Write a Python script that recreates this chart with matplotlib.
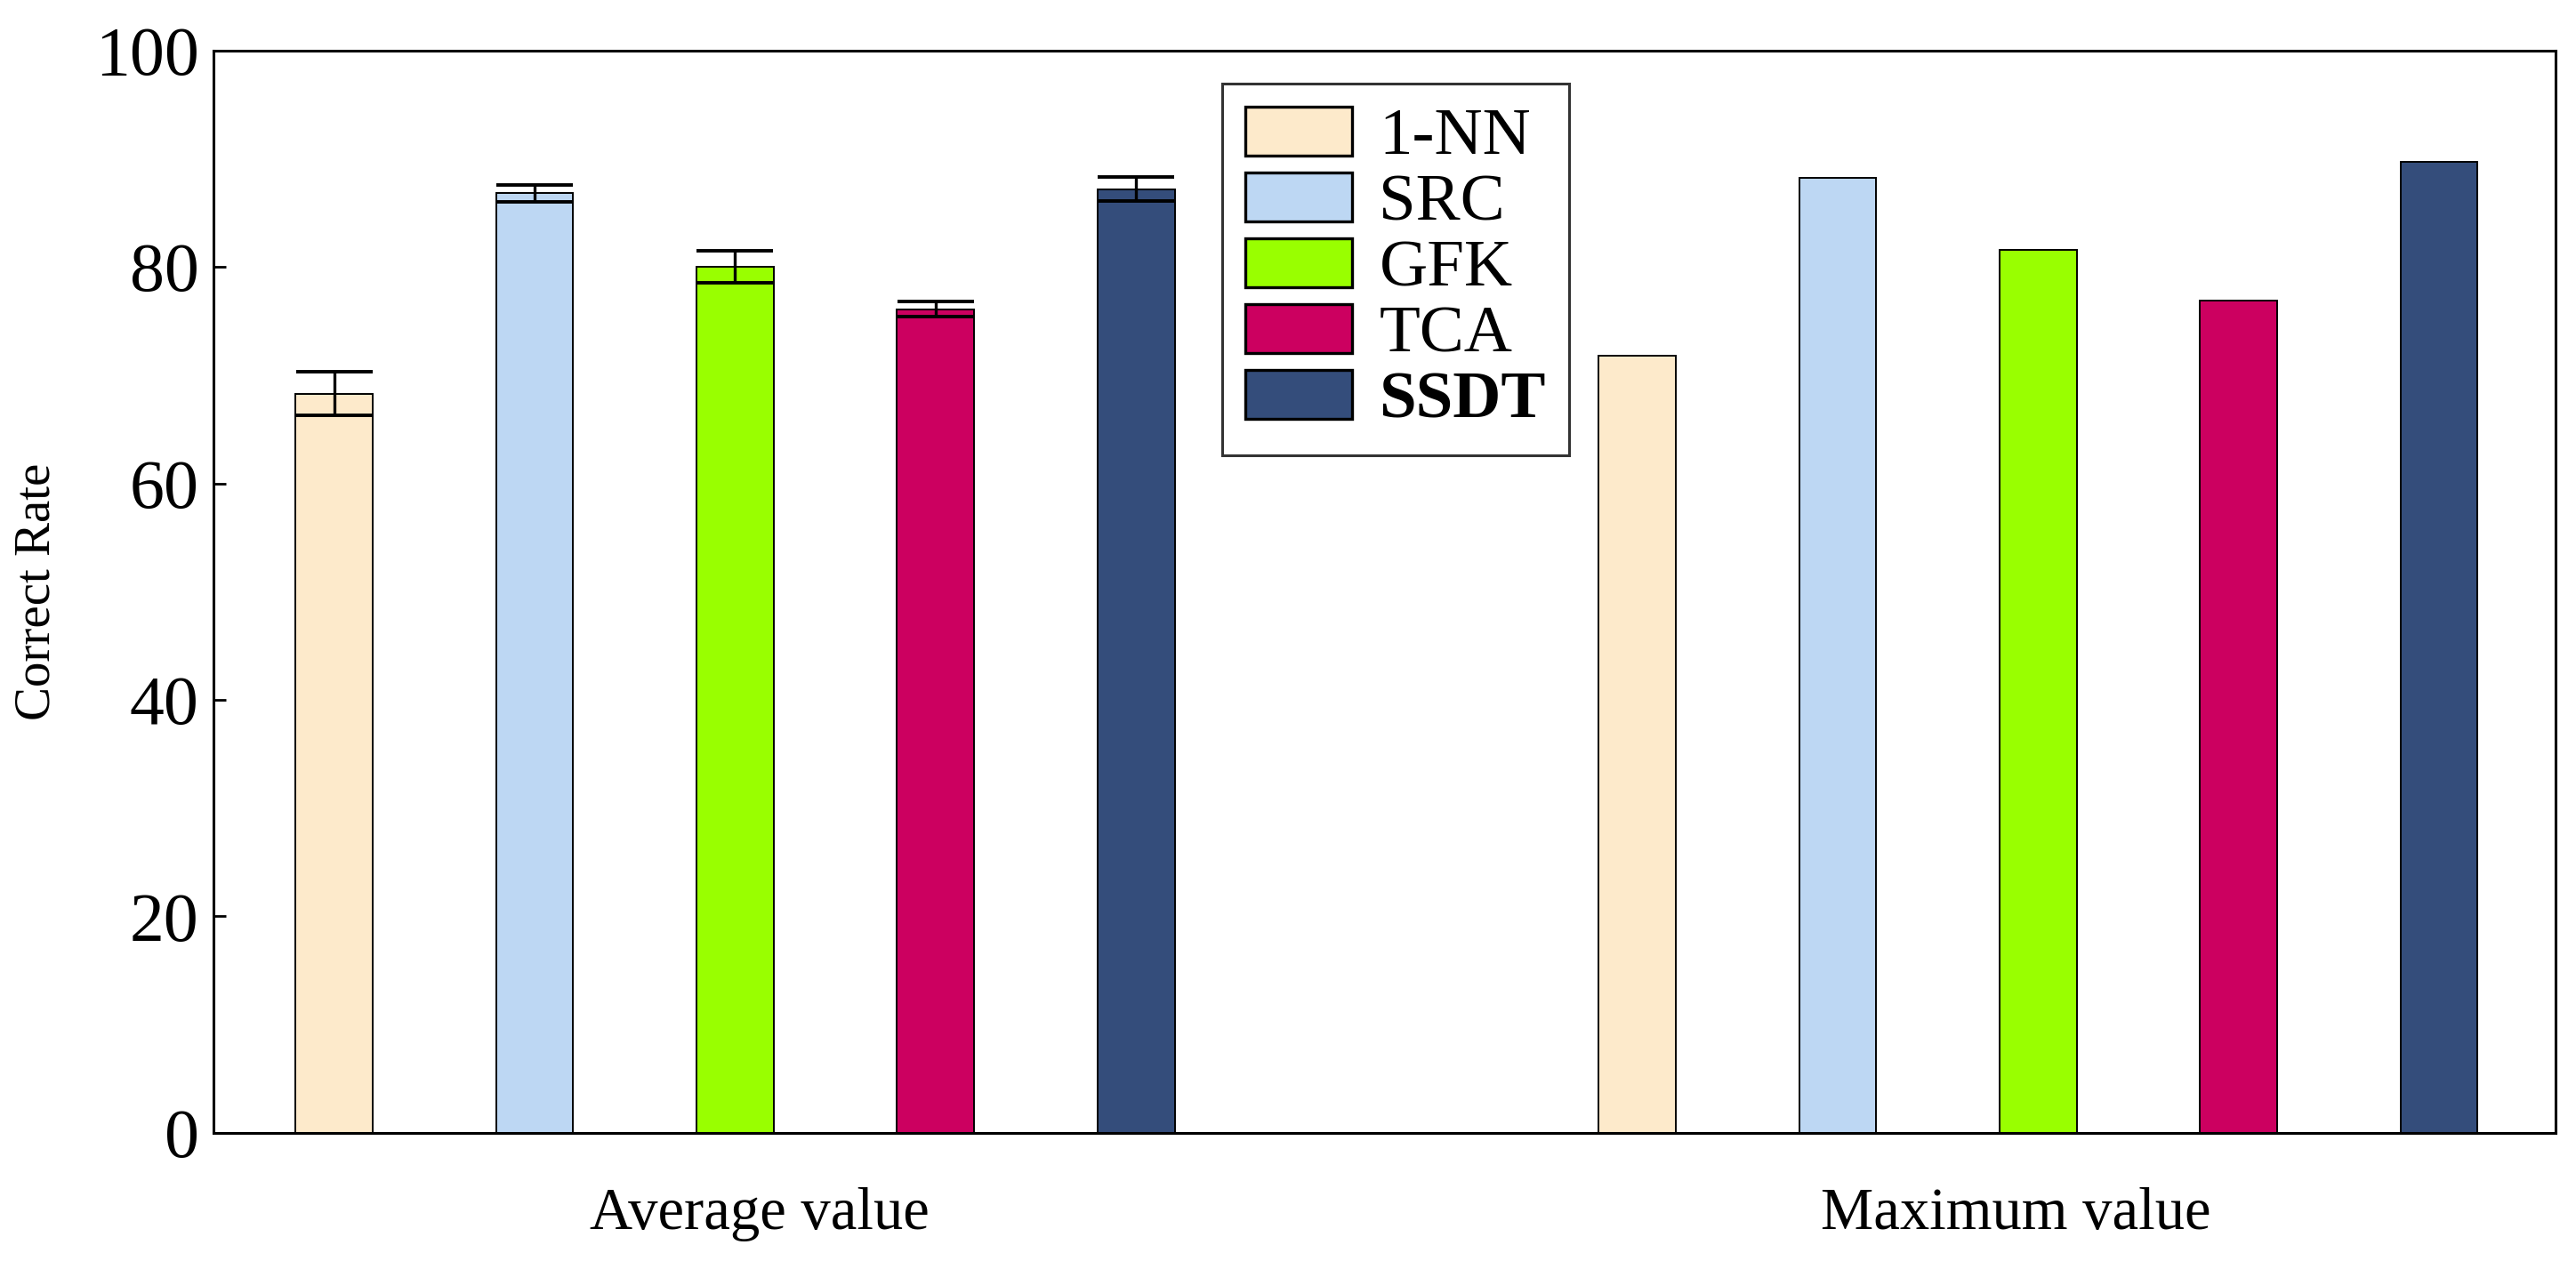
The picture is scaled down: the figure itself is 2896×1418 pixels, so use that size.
import matplotlib
matplotlib.use("Agg")
import matplotlib.pyplot as plt
import numpy as np

methods = ["1-NN", "SRC", "GFK", "TCA", "SSDT"]
colors = ["#FDEACB", "#BDD7F3", "#99FF00", "#CC0060", "#344D7B"]
groups = ["Average value", "Maximum value"]
avg_vals = [68.3, 86.8, 80.0, 76.1, 87.2]
avg_err = [2.0, 0.8, 1.5, 0.7, 1.1]
max_vals = [71.8, 88.2, 81.6, 76.9, 89.7]

plt.rcParams['font.family'] = ['Liberation Serif', 'DejaVu Serif']

fig = plt.figure(figsize=(14.48, 7.09), dpi=200)
ax = fig.add_axes([0.083, 0.1016, 0.909, 0.8584])

x_avg = np.arange(5)
x_max = np.arange(5) + 6.5
w = 0.385

handles = []
for i in range(5):
    h = ax.bar(x_avg[i], avg_vals[i], w, color=colors[i], edgecolor='black',
               linewidth=0.7, label=methods[i])
    ax.errorbar(x_avg[i], avg_vals[i], yerr=avg_err[i], fmt='none',
                ecolor='black', elinewidth=1.2, capsize=15.5, capthick=1.4)
    ax.bar(x_max[i], max_vals[i], w, color=colors[i], edgecolor='black',
           linewidth=0.7)
    handles.append(h)

ax.set_xlim(-0.6, 11.08)
ax.set_ylim(0, 100)
ax.set_yticks([0, 20, 40, 60, 80, 100])
ax.tick_params(axis='y', direction='in', length=5, width=1, labelsize=28, pad=6)
ax.set_xticks([2.12, 8.39])
ax.set_xticklabels(groups, fontsize=24)
ax.tick_params(axis='x', length=0, pad=22)
ax.set_ylabel("Correct Rate", fontsize=20.5, labelpad=14)
for s in ax.spines.values():
    s.set_linewidth(1.1)

leg = fig.legend(handles, methods, loc='upper left', bbox_to_anchor=(0.4745, 0.934),
                 fontsize=27, frameon=True, fancybox=False, edgecolor='black',
                 handlelength=1.6, handleheight=0.75, handletextpad=0.4,
                 labelspacing=0.06, borderpad=0.35, borderaxespad=0)
leg.get_frame().set_linewidth(1.1)
for p in leg.get_patches():
    p.set_linewidth(1.2)
leg.get_texts()[4].set_fontweight('bold')

fig.savefig("out.png", dpi=200)
